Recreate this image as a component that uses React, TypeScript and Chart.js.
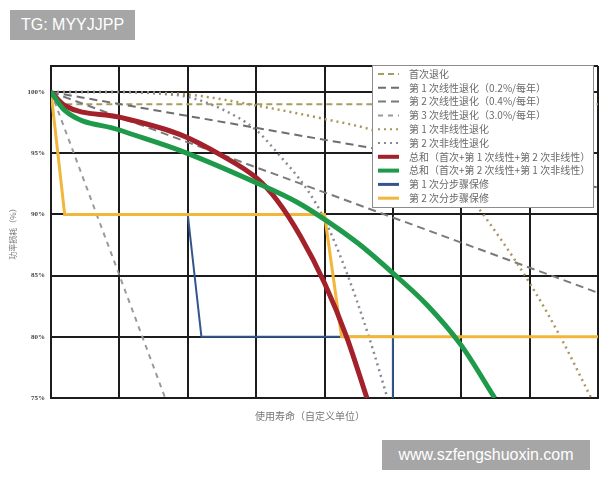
import React, { useEffect, useRef } from 'react';
import { Chart, registerables } from 'chart.js';

Chart.register(...registerables);

// ---- axis values ----
const yTicks = [75, 80, 85, 90, 95, 100];
const yTop = 102.13;
const xMin = 0;
const xMax = 8;

// ---- legend labels ----
const seriesLabels = [
  '首次退化',
  '第 1 次线性退化（0.2%/每年）',
  '第 2 次线性退化（0.4%/每年）',
  '第 3 次线性退化（3.0%/每年）',
  '第 1 次非线性退化',
  '第 2 次非线性退化',
  '总和（首次+第 1 次线性+第 2 次非线性）',
  '总和（首次+第 2 次线性+第 1 次非线性）',
  '第 1 次分步骤保修',
  '第 2 次分步骤保修',
];

// ---- series values (x = life units, y = % power) ----
const firstX = [0, 0.2, 8];
const firstY = [100, 99.0, 99.0];

const lin1X = [0, 8];
const lin1Y = [100, 92.2];

const lin2X = [0, 8];
const lin2Y = [100, 83.6];

const lin3X = [0, 1.67];
const lin3Y = [100, 75];

const nl1X = [0, 1, 2, 3, 4, 4.7, 5.3, 5.8, 6.2, 6.6, 7, 7.45, 7.9];
const nl1Y = [100, 100, 99.8, 98.9, 97.8, 96.9, 95.6, 93.6, 90.9, 87.8, 84.4, 80, 75];

const nl2X = [0, 1, 1.5, 2, 2.5, 3, 3.3, 3.75, 4, 4.3, 4.65, 4.92];
const nl2Y = [100, 100, 99.9, 99.6, 98.6, 96.9, 95.1, 92, 89.6, 85.6, 80, 75];

const redX = [0, 0.2, 1, 1.9, 2.5, 3, 3.3, 3.65, 4, 4.33, 4.62];
const redY = [100, 98.9, 97.95, 96.5, 94.8, 93.0, 91.2, 88.2, 84.4, 79.9, 75];

const greenX = [0, 0.2, 1, 1.9, 3, 3.6, 4, 4.5, 5, 5.5, 6, 6.49];
const greenY = [100, 98.5, 96.9, 95.2, 92.6, 91.0, 89.6, 87.6, 85.2, 82.6, 79.3, 75];

const blueX = [2, 2.2, 5, 5];
const blueY = [90, 80, 80, 75];

const yellowX = [0, 0.2, 4, 4.25, 8];
const yellowY = [100, 90, 90, 80, 80];

function pts(xs: number[], ys: number[]) {
  return xs.map((x, i) => ({ x, y: ys[i] }));
}

const legendPlugin = {
  id: 'boxLegend',
  afterDatasetsDraw(chart: any) {
    const { ctx, chartArea } = chart;
    const x0 = chartArea.right - 226;
    const y0 = chartArea.top - 1;
    const w = 221;
    const h = 142;
    ctx.save();
    ctx.fillStyle = '#ffffff';
    ctx.fillRect(x0, y0, w, h);
    ctx.strokeStyle = '#8c8c8c';
    ctx.lineWidth = 1;
    ctx.strokeRect(x0 + 0.5, y0 + 0.5, w, h);
    ctx.font = '10px "Noto Sans CJK SC", sans-serif';
    ctx.textBaseline = 'middle';
    ctx.textAlign = 'left';
    chart.data.datasets.forEach((ds: any, i: number) => {
      const y = y0 + 9 + i * 13.8;
      ctx.save();
      ctx.strokeStyle = ds.borderColor;
      ctx.lineWidth = ds.legendWidth || 2;
      ctx.setLineDash(ds.borderDash || []);
      ctx.beginPath();
      ctx.moveTo(x0 + 6, y);
      ctx.lineTo(x0 + 27, y);
      ctx.stroke();
      ctx.restore();
      ctx.fillStyle = '#6a6a6a';
      ctx.fillText(ds.label, x0 + 37, y);
    });
    ctx.restore();
  },
  afterDraw(chart: any) {
    const { ctx, chartArea } = chart;
    ctx.save();
    ctx.fillStyle = '#777777';
    ctx.textAlign = 'center';
    ctx.textBaseline = 'middle';
    ctx.font = '10px "Noto Sans CJK SC", sans-serif';
    ctx.fillText('使用寿命（自定义单位）', 310, chartArea.bottom + 18);
    ctx.translate(13, (chartArea.top + chartArea.bottom) / 2);
    ctx.rotate(-Math.PI / 2);
    ctx.font = '8px "Noto Sans CJK SC", sans-serif';
    ctx.fillText('功率损耗（%）', 0, 0);
    ctx.restore();
  },
};

export default function App() {
  const ref = useRef<HTMLCanvasElement | null>(null);

  useEffect(() => {
    if (!ref.current) return;
    const gridColor = '#1c1c1c';
    const base = { pointRadius: 0, fill: false, tension: 0 } as any;
    const chart = new Chart(ref.current, {
      type: 'line',
      data: {
        datasets: [
          { ...base, label: seriesLabels[0], data: pts(firstX, firstY), borderColor: '#a99c62', borderWidth: 2, borderDash: [6, 4], order: 9 },
          { ...base, label: seriesLabels[1], data: pts(lin1X, lin1Y), borderColor: '#6e6e6e', borderWidth: 2, borderDash: [8, 5], order: 8 },
          { ...base, label: seriesLabels[2], data: pts(lin2X, lin2Y), borderColor: '#7a7a7a', borderWidth: 2, borderDash: [8, 5], order: 7 },
          { ...base, label: seriesLabels[3], data: pts(lin3X, lin3Y), borderColor: '#9a9a9a', borderWidth: 2, borderDash: [5, 5], order: 6 },
          { ...base, label: seriesLabels[4], data: pts(nl1X, nl1Y), borderColor: '#a8975c', borderWidth: 2.5, borderDash: [2, 4], cubicInterpolationMode: 'monotone', order: 5 },
          { ...base, label: seriesLabels[5], data: pts(nl2X, nl2Y), borderColor: '#858b96', borderWidth: 2.5, borderDash: [2, 4], cubicInterpolationMode: 'monotone', order: 4 },
          { ...base, label: seriesLabels[6], data: pts(redX, redY), borderColor: '#a3212b', borderWidth: 5, legendWidth: 4, cubicInterpolationMode: 'monotone', order: 1 },
          { ...base, label: seriesLabels[7], data: pts(greenX, greenY), borderColor: '#1f9a4b', borderWidth: 5, legendWidth: 4, cubicInterpolationMode: 'monotone', order: 0 },
          { ...base, label: seriesLabels[8], data: pts(blueX, blueY), borderColor: '#33558b', borderWidth: 2, legendWidth: 3, order: 3 },
          { ...base, label: seriesLabels[9], data: pts(yellowX, yellowY), borderColor: '#f2b63a', borderWidth: 3, legendWidth: 3, order: 2 },
        ],
      },
      options: {
        animation: false,
        responsive: true,
        maintainAspectRatio: false,
        layout: { padding: { top: 66, right: 2, left: 0, bottom: 0 } },
        plugins: {
          legend: { display: false },
          tooltip: { enabled: false },
        },
        scales: {
          x: {
            type: 'linear',
            min: xMin,
            max: xMax,
            ticks: { display: false, stepSize: 1 },
            grid: { color: gridColor, lineWidth: 2, drawTicks: false },
            border: { color: gridColor, width: 2 },
            afterFit: (s: any) => { s.height = 82; },
          },
          y: {
            type: 'linear',
            min: 75,
            max: yTop,
            afterBuildTicks: (axis: any) => {
              axis.ticks = [...yTicks, yTop].map((v) => ({ value: v }));
            },
            ticks: {
              padding: 6,
              color: '#444',
              font: { family: 'Liberation Serif', size: 7, weight: 'bold' },
              callback: (v: any) => (yTicks.includes(Number(v)) ? v + '%' : ''),
            },
            grid: { color: gridColor, lineWidth: 2, drawTicks: false },
            border: { color: gridColor, width: 2 },
            afterFit: (s: any) => { s.width = 51; },
          },
        },
      } as any,
      plugins: [legendPlugin],
    });
    return () => chart.destroy();
  }, []);

  const wm: React.CSSProperties = {
    position: 'absolute',
    background: '#a6a6a6',
    color: '#ffffff',
    fontFamily: '"Liberation Sans", Arial, sans-serif',
    fontSize: 16,
    display: 'flex',
    alignItems: 'center',
    justifyContent: 'center',
  };

  return (
    <div style={{ position: 'fixed', left: 0, top: 0, width: 600, height: 480, background: '#fff' }}>
      <canvas ref={ref} />
      <div style={{ ...wm, left: 10, top: 10, width: 125, height: 30 }}>TG: MYYJJPP</div>
      <div style={{ ...wm, left: 382, top: 440, width: 208, height: 30 }}>www.szfengshuoxin.com</div>
    </div>
  );
}
